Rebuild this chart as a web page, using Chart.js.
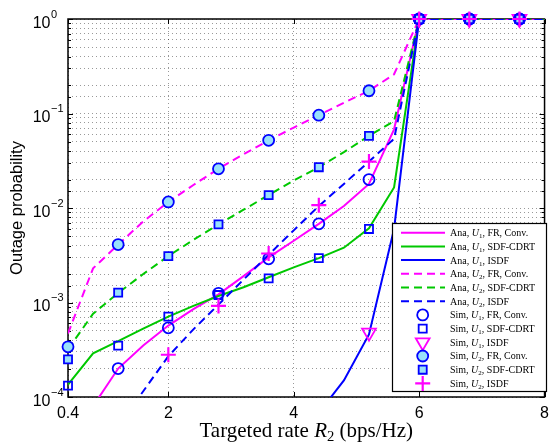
<!DOCTYPE html>
<html><head><meta charset="utf-8">
<script src="https://cdn.jsdelivr.net/npm/chart.js@4.4.0/dist/chart.umd.min.js"></script>
<style>html,body{margin:0;padding:0;background:#fff;}</style>
</head><body>
<canvas id="c" width="556" height="447"></canvas>
<script>
// ---------- data ----------
const X_TICKS = [0.4, 2, 4, 6, 8];
const Y_DECADES = [1e-4, 1e-3, 1e-2, 1e-1, 1];
const Y_EXPONENTS = ['\u22124', '\u22123', '\u22122', '\u22121', '0'];

const RATE_ANA = [0.4,0.8,1.2,1.6,2.0,2.4,2.8,3.2,3.6,4.0,4.4,4.8,5.2,5.6,6.0,6.4,6.8,7.2,7.6,8.0];
const ANA_U1_FR   = [null, 8.0e-5, 2.0e-4, 3.5e-4, 5.7e-4, 8.5e-4, 1.22e-3, 1.9e-3, 3.0e-3, 4.5e-3, 6.8e-3, 1.05e-2, 1.8e-2, 6.8e-2, 1,1,1,1,1,1];
const ANA_U1_SDF  = [1.35e-4, 2.9e-4, 3.9e-4, 5.3e-4, 7.1e-4, 9.2e-4, 1.17e-3, 1.45e-3, 1.85e-3, 2.35e-3, 2.95e-3, 3.8e-3, 6.1e-3, 1.65e-2, 1,1,1,1,1,1];
const ANA_U1_ISDF = [null,null,null,null,null,null,null,null,null,null, 6.8e-5, 1.5e-4, 4.6e-4, 6.0e-3, 1,1,1,1,1,1];
const ANA_U2_FR   = [4.7e-4, 2.3e-3, 4.1e-3, 7.2e-3, 1.16e-2, 1.75e-2, 2.6e-2, 3.7e-2, 5.2e-2, 7.1e-2, 9.6e-2, 0.13, 0.174, 0.26, 1,1,1,1,1,1];
const ANA_U2_SDF  = [3.2e-4, 7.6e-4, 1.26e-3, 2.0e-3, 3.1e-3, 4.6e-3, 6.7e-3, 9.6e-3, 1.37e-2, 1.95e-2, 2.7e-2, 3.9e-2, 5.8e-2, 8.3e-2, 1,1,1,1,1,1];
const ANA_U2_ISDF = [null, null, 5.0e-5, 1.15e-4, 2.7e-4, 5.2e-4, 9.5e-4, 1.75e-3, 3.2e-3, 5.8e-3, 1.05e-2, 1.8e-2, 3.1e-2, 5.4e-2, 1,1,1,1,1,1];

const RATE_SIM = [0.4,1.2,2.0,2.8,3.6,4.4,5.2,6.0,6.8,7.6];
const SIM_U1_FR   = [null, 2.0e-4, 5.4e-4, 1.25e-3, 2.9e-3, 6.8e-3, 2.0e-2, 1, 1, 1];
const SIM_U1_SDF  = [1.32e-4, 3.5e-4, 7.1e-4, 1.2e-3, 1.8e-3, 2.95e-3, 6.0e-3, 1, 1, 1];
const SIM_U1_ISDF = [null, null, null, null, null, null, 4.8e-4, 1, 1, 1];
const SIM_U2_FR   = [3.4e-4, 4.1e-3, 1.16e-2, 2.6e-2, 5.2e-2, 9.6e-2, 0.174, 1, 1, 1];
const SIM_U2_SDF  = [2.5e-4, 1.27e-3, 3.1e-3, 6.7e-3, 1.37e-2, 2.7e-2, 5.8e-2, 1, 1, 1];
const SIM_U2_ISDF = [null, null, 2.8e-4, 9.2e-4, 3.3e-3, 1.07e-2, 3.1e-2, 1, 1, 1];

const LABELS = [
  'Ana, U1, FR, Conv.', 'Ana, U1, SDF-CDRT', 'Ana, U1, ISDF',
  'Ana, U2, FR, Conv.', 'Ana, U2, SDF-CDRT', 'Ana, U2, ISDF',
  'Sim, U1, FR, Conv.', 'Sim, U1, SDF-CDRT', 'Sim, U1, ISDF',
  'Sim, U2, FR, Conv.', 'Sim, U2, SDF-CDRT', 'Sim, U2, ISDF'
];
const X_TITLE = ['Targeted rate ', 'R', '2', ' (bps/Hz)'];
const Y_TITLE = 'Outage probability';

// ---------- styles ----------
const MAGENTA = 'rgb(255,0,255)';
const GREEN = 'rgb(0,200,0)';
const BLUE = 'rgb(0,0,255)';
const LIGHT = 'rgb(153,225,250)';
const NONE = 'rgba(0,0,0,0)';
const SANS = 'Liberation Sans';
const SERIF = 'Liberation Serif';
const GRID = 'rgba(0,0,0,0.4)';

function lineDs(label, arr, color, dashed) {
  return { label, data: RATE_ANA.map((x, i) => ({x, y: arr[i]})), showLine: true,
    borderColor: color, backgroundColor: color, borderWidth: 2, borderDash: dashed ? [8, 5] : [],
    pointRadius: 0, pointHoverRadius: 0, tension: 0, fill: false, spanGaps: false };
}
function simDs(label, arr, style, r, stroke, fill, lw, rot) {
  return { label, data: RATE_SIM.map((x, i) => ({x, y: arr[i]})), showLine: false,
    pointStyle: style, pointRadius: r, pointHoverRadius: r, pointBorderColor: stroke,
    pointBackgroundColor: fill, pointBorderWidth: lw, pointRotation: rot || 0,
    borderColor: stroke, backgroundColor: fill, clip: false };
}

const datasets = [
  lineDs(LABELS[0], ANA_U1_FR, MAGENTA, false),
  lineDs(LABELS[1], ANA_U1_SDF, GREEN, false),
  lineDs(LABELS[2], ANA_U1_ISDF, BLUE, false),
  lineDs(LABELS[3], ANA_U2_FR, MAGENTA, true),
  lineDs(LABELS[4], ANA_U2_SDF, GREEN, true),
  lineDs(LABELS[5], ANA_U2_ISDF, BLUE, true),
  simDs(LABELS[6], SIM_U1_FR, 'circle', 5.5, BLUE, NONE, 1.8),
  simDs(LABELS[7], SIM_U1_SDF, 'rect', 5.7, BLUE, NONE, 1.8),
  simDs(LABELS[8], SIM_U1_ISDF, 'triangle', 8, MAGENTA, NONE, 1.8, 180),
  simDs(LABELS[9], SIM_U2_FR, 'circle', 5.5, BLUE, LIGHT, 1.8),
  simDs(LABELS[10], SIM_U2_SDF, 'rect', 5.7, BLUE, LIGHT, 1.8),
  simDs(LABELS[11], SIM_U2_ISDF, 'cross', 7.5, MAGENTA, NONE, 2.2)
];
datasets.forEach((d, i) => { d.order = 100 - i; });

// ---------- helpers ----------
function drawMarker(ctx, ds, x, y) {
  const r = ds.pointRadius;
  ctx.save();
  ctx.lineWidth = ds.pointBorderWidth;
  ctx.strokeStyle = ds.pointBorderColor;
  ctx.fillStyle = ds.pointBackgroundColor;
  ctx.setLineDash([]);
  ctx.beginPath();
  if (ds.pointStyle === 'circle') {
    ctx.arc(x, y, r, 0, Math.PI * 2);
  } else if (ds.pointStyle === 'rect') {
    const s = Math.SQRT1_2 * r;
    ctx.rect(x - s, y - s, 2 * s, 2 * s);
  } else if (ds.pointStyle === 'triangle') {
    let rad = (ds.pointRotation || 0) * Math.PI / 180;
    ctx.moveTo(x + Math.sin(rad) * r, y - Math.cos(rad) * r);
    rad += 2 * Math.PI / 3;
    ctx.lineTo(x + Math.sin(rad) * r, y - Math.cos(rad) * r);
    rad += 2 * Math.PI / 3;
    ctx.lineTo(x + Math.sin(rad) * r, y - Math.cos(rad) * r);
    ctx.closePath();
  } else if (ds.pointStyle === 'cross') {
    ctx.moveTo(x, y + r); ctx.lineTo(x, y - r);
    ctx.moveTo(x - r, y); ctx.lineTo(x + r, y);
  }
  if (ds.pointStyle !== 'cross') ctx.fill();
  ctx.stroke();
  ctx.restore();
}

// draw a label like "Ana, U1, FR, Conv." with italic U and subscript digit
function drawUserLabel(ctx, text, x, y, size) {
  const m = text.match(/^(.*?)U(\d)(.*)$/);
  const parts = m ? [[m[1], ''], ['U', 'italic '], [m[2], 'sub'], [m[3], '']] : [[text, '']];
  let cx = x;
  parts.forEach(([t, st]) => {
    if (st === 'sub') {
      ctx.font = (size * 0.7) + 'px "' + SERIF + '"';
      ctx.fillText(t, cx, y + size * 0.2);
    } else {
      ctx.font = st + size + 'px "' + SERIF + '"';
      ctx.fillText(t, cx, y);
    }
    cx += ctx.measureText(t).width;
  });
}

const framePlugin = {
  id: 'frame',
  beforeDatasetsDraw(chart) {
    const {ctx, chartArea: a, scales: {x, y}} = chart;
    ctx.save();
    ctx.strokeStyle = '#000';
    ctx.lineWidth = 1;
    ctx.beginPath();
    y.ticks.forEach(t => {
      const py = Math.round(y.getPixelForValue(t.value)) + 0.5;
      const lg = Math.log10(t.value);
      const len = Math.abs(lg - Math.round(lg)) < 1e-6 ? 5 : 3;
      ctx.moveTo(a.left, py); ctx.lineTo(a.left + len, py);
      ctx.moveTo(a.right, py); ctx.lineTo(a.right - len, py);
    });
    X_TICKS.forEach(v => {
      const px = Math.round(x.getPixelForValue(v)) + 0.5;
      ctx.moveTo(px, a.bottom); ctx.lineTo(px, a.bottom - 5);
      ctx.moveTo(px, a.top); ctx.lineTo(px, a.top + 5);
    });
    ctx.stroke();
    ctx.lineWidth = 1.5;
    ctx.strokeRect(a.left, a.top, a.right - a.left, a.bottom - a.top);
    ctx.restore();
  },
  afterDatasetsDraw(chart) {
    const ctx = chart.ctx;
    // legend box
    const bx0 = 392, by0 = 223, bx1 = 547, by1 = 392;
    ctx.save();
    ctx.fillStyle = '#fff';
    ctx.fillRect(bx0, by0, bx1 - bx0, by1 - by0);
    ctx.strokeStyle = '#000';
    ctx.lineWidth = 1.2;
    ctx.strokeRect(bx0 + 0.5, by0 + 0.5, bx1 - bx0 - 1, by1 - by0 - 1);
    chart.data.datasets.forEach((ds, i) => {
      const ry = 232.7 + i * 13.7;
      if (ds.showLine) {
        ctx.save();
        ctx.strokeStyle = ds.borderColor;
        ctx.lineWidth = ds.borderWidth;
        ctx.setLineDash(ds.borderDash);
        ctx.beginPath();
        ctx.moveTo(401, ry); ctx.lineTo(445, ry);
        ctx.stroke();
        ctx.restore();
      } else {
        drawMarker(ctx, ds, 422.7, ry);
      }
      ctx.fillStyle = '#000';
      ctx.textBaseline = 'alphabetic';
      ctx.textAlign = 'left';
      drawUserLabel(ctx, ds.label, 450, ry + 3.4, 10);
    });
    ctx.restore();
  },
  afterDraw(chart) {
    const {ctx, chartArea: a, scales: {y}} = chart;
    ctx.save();
    ctx.fillStyle = '#000';
    ctx.textBaseline = 'alphabetic';
    // y tick labels 10^k
    Y_DECADES.forEach((d, k) => {
      const py = y.getPixelForValue(d);
      ctx.font = '16px "' + SANS + '"';
      ctx.textAlign = 'right';
      ctx.fillText('10', 50.5, py + 8.5);
      ctx.font = '11px "' + SANS + '"';
      ctx.textAlign = 'left';
      ctx.fillText(Y_EXPONENTS[k], 51, py - 1.5);
    });
    // x title
    const size = 21;
    const fonts = [size + 'px "' + SERIF + '"', 'italic ' + size + 'px "' + SERIF + '"',
                   (size * 0.7) + 'px "' + SERIF + '"', size + 'px "' + SERIF + '"'];
    let total = 0;
    const widths = X_TITLE.map((t, i) => { ctx.font = fonts[i]; const w = ctx.measureText(t).width; total += w; return w; });
    let cx = (a.left + a.right) / 2 - total / 2;
    const base = 437;
    ctx.textAlign = 'left';
    X_TITLE.forEach((t, i) => {
      ctx.font = fonts[i];
      ctx.fillText(t, cx, i === 2 ? base + 4 : base);
      cx += widths[i];
    });
    ctx.restore();
  }
};

new Chart(document.getElementById('c'), {
  type: 'scatter',
  data: { datasets },
  options: {
    responsive: false,
    animation: false,
    devicePixelRatio: 1,
    events: [],
    layout: { padding: { left: 0, right: 9, top: 19, bottom: 0 } },
    plugins: { legend: { display: false }, tooltip: { enabled: false } },
    scales: {
      x: {
        type: 'linear', min: 0.4, max: 8,
        afterBuildTicks: s => { s.ticks = X_TICKS.map(v => ({value: v})); },
        afterFit: s => { s.height = 50; },
        ticks: { callback: v => String(v), color: '#000', padding: 7, maxRotation: 0, autoSkip: false,
                 font: { family: SANS, size: 16 } },
        grid: { color: GRID, lineWidth: 1, drawTicks: false },
        border: { display: false, dash: [1, 3] }
      },
      y: {
        type: 'logarithmic', min: 1e-4, max: 1,
        afterFit: s => { s.width = 68; },
        ticks: { display: false },
        grid: { color: GRID, lineWidth: 1, drawTicks: false },
        border: { display: false, dash: [1, 3] },
        title: { display: true, text: Y_TITLE, color: '#000', font: { family: SANS, size: 16.5 },
                 padding: { top: 7.4, bottom: 0 } }
      }
    }
  },
  plugins: [framePlugin]
});
</script>
</body></html>
